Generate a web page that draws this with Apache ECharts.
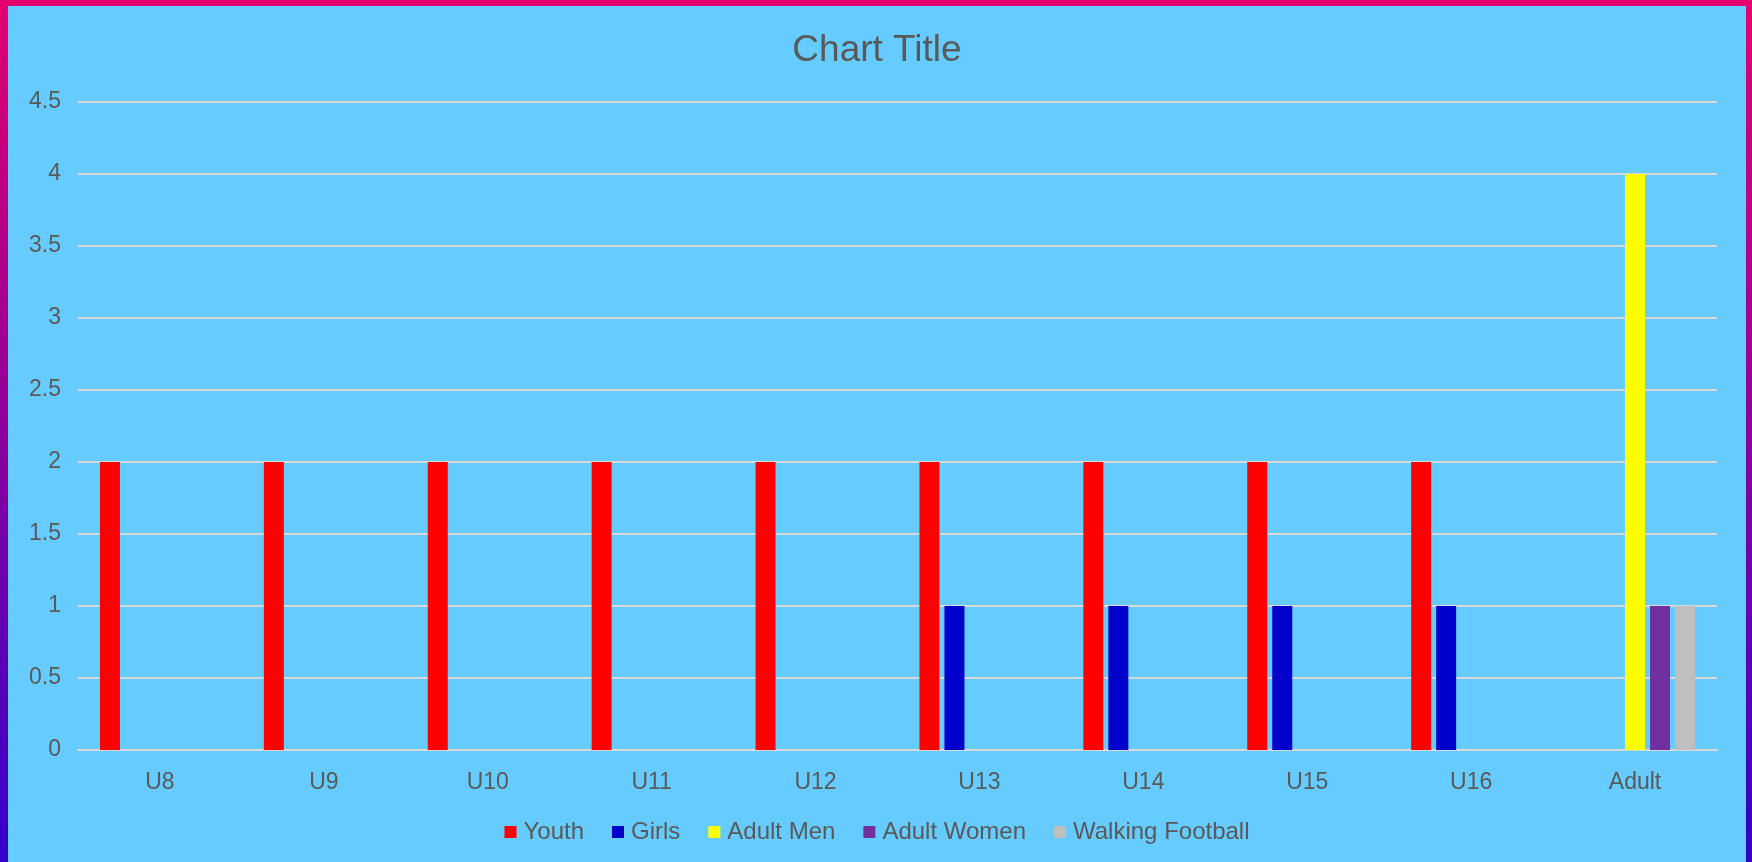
<!DOCTYPE html>
<html>
<head>
<meta charset="utf-8">
<script src="https://cdn.jsdelivr.net/npm/echarts@6/dist/echarts.min.js"></script>
<style>
    html, body {
        margin: 0;
        padding: 0;
        width: 1752px;
        height: 862px;
        overflow: hidden;
        background: linear-gradient(to bottom, #e4006e 0%, #3300cc 100%);
    }
    #main {
        position: absolute;
        left: 8px;
        top: 6px;
        width: 1738px;
        height: 856px;
        background: #66ccff;
    }
</style>
</head>
<body>
<div id="main"></div>
<script>
var categories = ['U8', 'U9', 'U10', 'U11', 'U12', 'U13', 'U14', 'U15', 'U16', 'Adult'];
var youth = [2, 2, 2, 2, 2, 2, 2, 2, 2, 0];
var girls = [0, 0, 0, 0, 0, 1, 1, 1, 1, 0];
var adultMen = [0, 0, 0, 0, 0, 0, 0, 0, 0, 4];
var adultWomen = [0, 0, 0, 0, 0, 0, 0, 0, 0, 1];
var walkingFootball = [0, 0, 0, 0, 0, 0, 0, 0, 0, 1];

var textColor = '#595959';
var fontFamily = '"Liberation Sans", Arial, sans-serif';

var chart = echarts.init(document.getElementById('main'), null, {
    renderer: 'canvas'
});

var makeSeries = function (name, data, color) {
    return {
        name: name,
        type: 'bar',
        data: data,
        barWidth: 20,
        barGap: '25%',
        itemStyle: {color: color},
        emphasis: {disabled: true}
    };
};

chart.setOption({
    backgroundColor: '#66ccff',
    animation: false,
    title: {
        text: 'Chart Title',
        left: 'center',
        top: 21,
        textStyle: {
            color: textColor,
            fontFamily: fontFamily,
            fontWeight: 'normal',
            fontSize: 37
        }
    },
    legend: {
        top: 809,
        left: 'center',
        itemWidth: 12,
        itemHeight: 12,
        itemGap: 28,
        icon: 'rect',
        textStyle: {
            color: textColor,
            fontFamily: fontFamily,
            fontSize: 24,
            padding: [0, 0, 0, 2]
        },
        data: ['Youth', 'Girls', 'Adult Men', 'Adult Women', 'Walking Football']
    },
    grid: {
        left: 70,
        right: 29,
        top: 96,
        bottom: 112,
        containLabel: false
    },
    xAxis: {
        type: 'category',
        data: categories,
        axisTick: {show: false},
        axisLine: {lineStyle: {color: '#d9d9d9', width: 2}},
        axisLabel: {
            color: textColor,
            fontFamily: fontFamily,
            fontSize: 23,
            margin: 21
        }
    },
    yAxis: {
        type: 'value',
        min: 0,
        max: 4.5,
        interval: 0.5,
        axisLine: {show: false},
        axisTick: {show: false},
        axisLabel: {
            color: textColor,
            fontFamily: fontFamily,
            fontSize: 23,
            margin: 17
        },
        splitLine: {lineStyle: {color: '#d9d9d9', width: 2}}
    },
    series: [
        makeSeries('Youth', youth, '#ff0000'),
        makeSeries('Girls', girls, '#0000cc'),
        makeSeries('Adult Men', adultMen, '#ffff00'),
        makeSeries('Adult Women', adultWomen, '#7030a0'),
        makeSeries('Walking Football', walkingFootball, '#bfbfbf')
    ]
});
</script>
</body>
</html>
